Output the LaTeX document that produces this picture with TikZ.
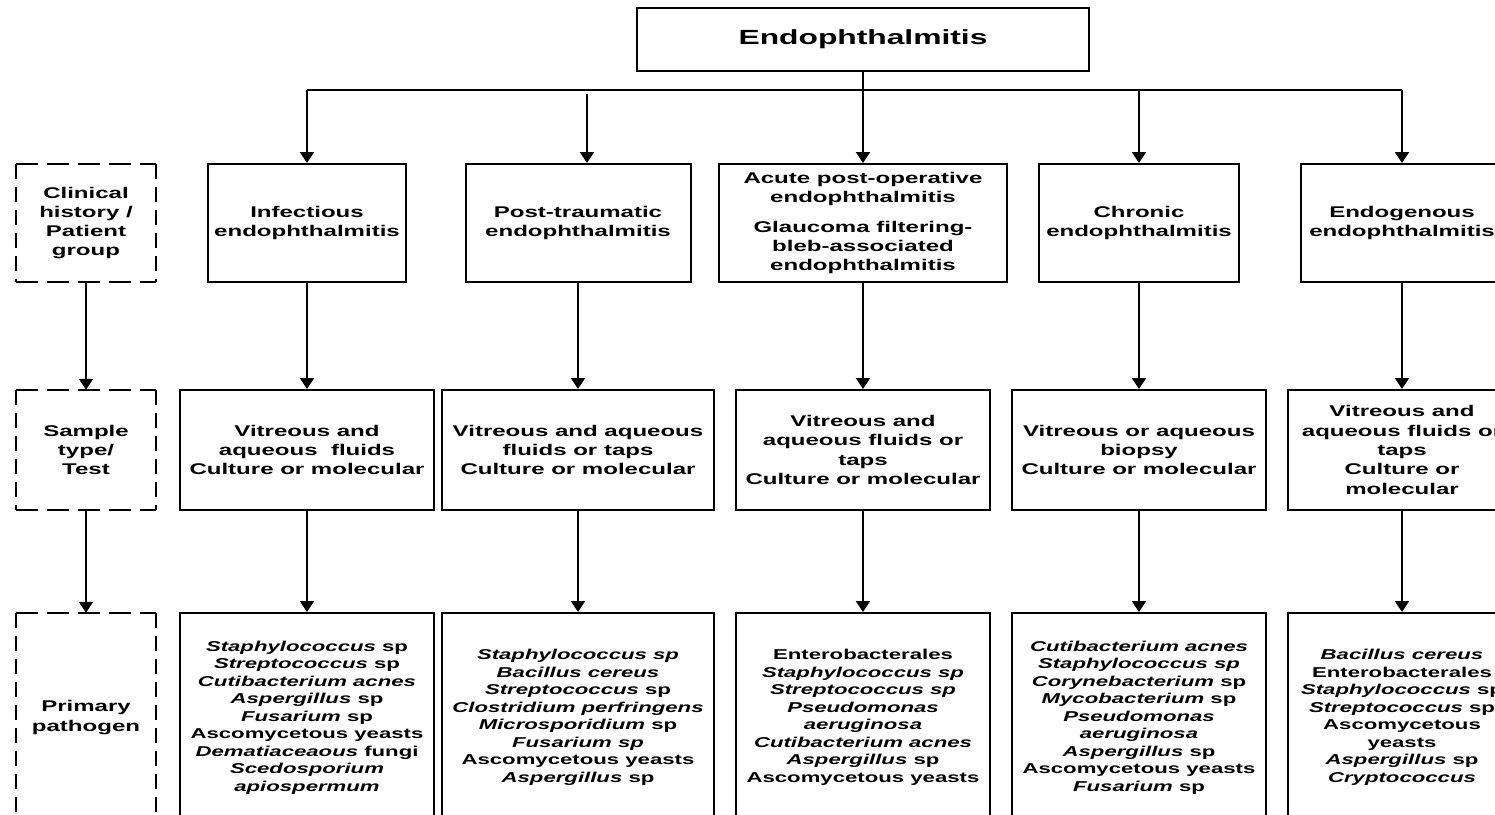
\documentclass[tikz,border=0pt]{standalone}
\usepackage{fontspec}
\setmainfont{Liberation Sans}[FakeStretch=1.55]
\usetikzlibrary{arrows.meta}

\newcommand\taxon[1]{\textit{#1}}
\newcommand\dashedframe[1]{%
  \draw[hdash] (#1.north west) -- (#1.north east) (#1.south west) -- (#1.south east);
  \draw[vdash] (#1.north west) -- (#1.south west) (#1.north east) -- (#1.south east);}

\tikzset{
  boxbase/.style={inner sep=0pt, align=center, font=\bfseries\fontsize{15.5}{19.3}\selectfont},
  catbox/.style={boxbase, draw, line width=2pt},
  hdr/.style={boxbase, minimum width=139pt},
  pathbox/.style={catbox, font=\bfseries\fontsize{14.3}{17.5}\selectfont, minimum height=209pt},
  titlebox/.style={catbox, font=\bfseries\fontsize{20.5}{24}\selectfont},
  conn/.style={line width=2pt},
  arr/.style={conn, -{Triangle[width=14pt,length=11pt]}},
  hdash/.style={line width=2pt, dash pattern=on 22pt off 9pt},
  vdash/.style={line width=2.3pt, dash pattern=on 15pt off 8pt},
}

\begin{document}
\begin{tikzpicture}[x=1pt,y=-1pt]
\useasboundingbox (0,0) rectangle (1495,814);
\fill[white] (0,0) rectangle (1495,814);

% title
\node[titlebox, minimum width=452pt, minimum height=63pt] (title) at (863,39.5) {Endophthalmitis};

% row labels
\node[hdr, minimum height=118pt] (h1) at (86,223) {Clinical\\history /\\Patient\\group};
\node[hdr, minimum height=120pt] (h2) at (86,450) {Sample\\type/\\Test};
\node[hdr, minimum height=209pt] (h3) at (86,717.5) {Primary\\pathogen};
\dashedframe{h1}
\dashedframe{h2}
\dashedframe{h3}

% patient groups
\node[catbox, minimum width=198pt, minimum height=118pt] (g1) at (307,223) {Infectious\\endophthalmitis};
\node[catbox, minimum width=225pt, minimum height=118pt] (g2) at (578,223) {Post-traumatic\\endophthalmitis};
\node[catbox, minimum width=288pt, minimum height=118pt] (g3) at (863,223) {Acute post-operative\\endophthalmitis\\[10pt]Glaucoma filtering-\\bleb-associated\\endophthalmitis};
\node[catbox, minimum width=200pt, minimum height=118pt] (g4) at (1139,223) {Chronic\\endophthalmitis};
\node[catbox, minimum width=202pt, minimum height=118pt] (g5) at (1402,223) {Endogenous\\endophthalmitis};

% sample type / test
\node[catbox, minimum width=254pt, minimum height=120pt] (s1) at (307,450) {Vitreous and\\aqueous~ fluids\\Culture or molecular};
\node[catbox, minimum width=272pt, minimum height=120pt] (s2) at (578,450) {Vitreous and aqueous\\fluids or taps\\Culture or molecular};
\node[catbox, minimum width=254pt, minimum height=120pt] (s3) at (863,450) {Vitreous and\\aqueous fluids or\\taps\\Culture or molecular};
\node[catbox, minimum width=254pt, minimum height=120pt] (s4) at (1139,450) {Vitreous or aqueous\\biopsy\\Culture or molecular};
\node[catbox, minimum width=228pt, minimum height=120pt] (s5) at (1402,450) {Vitreous and\\aqueous fluids or\\taps\\Culture or\\molecular};

% primary pathogens
\node[pathbox, minimum width=254pt] (p1) at (307,717.5) {\taxon{Staphylococcus} sp\\\taxon{Streptococcus} sp\\\taxon{Cutibacterium acnes}\\\taxon{Aspergillus} sp\\\taxon{Fusarium} sp\\Ascomycetous yeasts\\\taxon{Dematiaceaous} fungi\\\taxon{Scedosporium}\\\taxon{apiospermum}};
\node[pathbox, minimum width=272pt] (p2) at (578,717.5) {\taxon{Staphylococcus sp}\\\taxon{Bacillus cereus}\\\taxon{Streptococcus} sp\\\taxon{Clostridium perfringens}\\\taxon{Microsporidium} sp\\\taxon{Fusarium sp}\\Ascomycetous yeasts\\\taxon{Aspergillus} sp};
\node[pathbox, minimum width=254pt] (p3) at (863,717.5) {Enterobacterales\\\taxon{Staphylococcus sp}\\\taxon{Streptococcus sp}\\\taxon{Pseudomonas}\\\taxon{aeruginosa}\\\taxon{Cutibacterium acnes}\\\taxon{Aspergillus} sp\\Ascomycetous yeasts};
\node[pathbox, minimum width=254pt] (p4) at (1139,717.5) {\taxon{Cutibacterium acnes}\\\taxon{Staphylococcus sp}\\\taxon{Corynebacterium} sp\\\taxon{Mycobacterium} sp\\\taxon{Pseudomonas}\\\taxon{aeruginosa}\\\taxon{Aspergillus} sp\\Ascomycetous yeasts\\\taxon{Fusarium} sp};
\node[pathbox, minimum width=228pt] (p5) at (1402,717.5) {\taxon{Bacillus cereus}\\Enterobacterales\\\taxon{Staphylococcus} sp\\\taxon{Streptococcus} sp\\Ascomycetous\\yeasts\\\taxon{Aspergillus} sp\\\taxon{Cryptococcus}};

% branching from the title
\coordinate (bar) at (0,90);
\coordinate (ptTop) at (587,94);
\draw[conn] (g1.north |- bar) -- (g5.north |- bar);
\draw[arr] (title.south) -- (title.south |- g3.north);
\draw[arr] (g1.north |- bar) -- (g1.north);
\draw[arr] (ptTop) -- (ptTop |- g2.north);
\draw[arr] (g4.north |- bar) -- (g4.north);
\draw[arr] (g5.north |- bar) -- (g5.north);

% downward flow through the rows
\draw[arr] (h1.south) -- (h2.north);
\draw[arr] (h2.south) -- (h3.north);
\foreach \i in {1,...,5} {
  \draw[arr] (s\i.north |- g\i.south) -- (s\i.north);
  \draw[arr] (s\i.south) -- (p\i.north);
}
\end{tikzpicture}
\end{document}
